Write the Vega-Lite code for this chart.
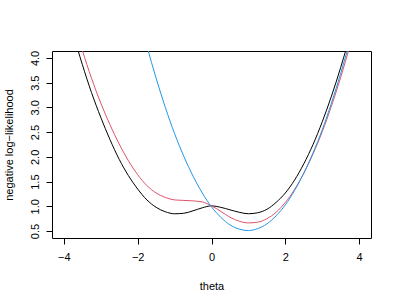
{
  "$schema": "https://vega.github.io/schema/vega-lite/v6.json",
  "width": 319,
  "height": 187,
  "autosize": "none",
  "padding": {"left": 52, "top": 51, "right": 26, "bottom": 65},
  "background": "white",
  "config": {
    "view": {"stroke": "#000000", "strokeWidth": 1},
    "font": "Liberation Sans",
    "axis": {
      "domain": false,
      "grid": false,
      "tickColor": "#000000",
      "tickSize": 6,
      "labelColor": "#000000",
      "labelFontSize": 11,
      "titleFontSize": 11,
      "titleFontWeight": "normal",
      "titleColor": "#000000",
      "labelFont": "Liberation Sans",
      "titleFont": "Liberation Sans"
    }
  },
  "data": {
    "values": [
      {"theta": -4.0, "value": 5.20, "curve": "a"},
      {"theta": -3.75, "value": 4.50, "curve": "a"},
      {"theta": -3.5, "value": 3.87, "curve": "a"},
      {"theta": -3.25, "value": 3.30, "curve": "a"},
      {"theta": -3.0, "value": 2.80, "curve": "a"},
      {"theta": -2.75, "value": 2.35, "curve": "a"},
      {"theta": -2.5, "value": 1.95, "curve": "a"},
      {"theta": -2.25, "value": 1.62, "curve": "a"},
      {"theta": -2.0, "value": 1.35, "curve": "a"},
      {"theta": -1.75, "value": 1.13, "curve": "a"},
      {"theta": -1.5, "value": 0.98, "curve": "a"},
      {"theta": -1.25, "value": 0.89, "curve": "a"},
      {"theta": -1.0, "value": 0.85, "curve": "a"},
      {"theta": -0.75, "value": 0.86, "curve": "a"},
      {"theta": -0.5, "value": 0.91, "curve": "a"},
      {"theta": -0.25, "value": 0.97, "curve": "a"},
      {"theta": 0.0, "value": 1.01, "curve": "a"},
      {"theta": 0.25, "value": 0.98, "curve": "a"},
      {"theta": 0.5, "value": 0.93, "curve": "a"},
      {"theta": 0.75, "value": 0.88, "curve": "a"},
      {"theta": 1.0, "value": 0.85, "curve": "a"},
      {"theta": 1.25, "value": 0.87, "curve": "a"},
      {"theta": 1.5, "value": 0.94, "curve": "a"},
      {"theta": 1.75, "value": 1.08, "curve": "a"},
      {"theta": 2.0, "value": 1.27, "curve": "a"},
      {"theta": 2.25, "value": 1.53, "curve": "a"},
      {"theta": 2.5, "value": 1.86, "curve": "a"},
      {"theta": 2.75, "value": 2.25, "curve": "a"},
      {"theta": 3.0, "value": 2.71, "curve": "a"},
      {"theta": 3.25, "value": 3.23, "curve": "a"},
      {"theta": 3.5, "value": 3.81, "curve": "a"},
      {"theta": 3.75, "value": 4.45, "curve": "a"},
      {"theta": 4.0, "value": 5.15, "curve": "a"},

      {"theta": -4.0, "value": 5.50, "curve": "b"},
      {"theta": -3.75, "value": 4.80, "curve": "b"},
      {"theta": -3.5, "value": 4.16, "curve": "b"},
      {"theta": -3.25, "value": 3.59, "curve": "b"},
      {"theta": -3.0, "value": 3.09, "curve": "b"},
      {"theta": -2.75, "value": 2.65, "curve": "b"},
      {"theta": -2.5, "value": 2.26, "curve": "b"},
      {"theta": -2.25, "value": 1.92, "curve": "b"},
      {"theta": -2.0, "value": 1.64, "curve": "b"},
      {"theta": -1.75, "value": 1.42, "curve": "b"},
      {"theta": -1.5, "value": 1.27, "curve": "b"},
      {"theta": -1.25, "value": 1.18, "curve": "b"},
      {"theta": -1.0, "value": 1.13, "curve": "b"},
      {"theta": -0.75, "value": 1.12, "curve": "b"},
      {"theta": -0.5, "value": 1.11, "curve": "b"},
      {"theta": -0.25, "value": 1.09, "curve": "b"},
      {"theta": 0.0, "value": 1.01, "curve": "b"},
      {"theta": 0.25, "value": 0.90, "curve": "b"},
      {"theta": 0.5, "value": 0.78, "curve": "b"},
      {"theta": 0.75, "value": 0.70, "curve": "b"},
      {"theta": 1.0, "value": 0.665, "curve": "b"},
      {"theta": 1.25, "value": 0.68, "curve": "b"},
      {"theta": 1.5, "value": 0.75, "curve": "b"},
      {"theta": 1.75, "value": 0.88, "curve": "b"},
      {"theta": 2.0, "value": 1.08, "curve": "b"},
      {"theta": 2.25, "value": 1.34, "curve": "b"},
      {"theta": 2.5, "value": 1.67, "curve": "b"},
      {"theta": 2.75, "value": 2.06, "curve": "b"},
      {"theta": 3.0, "value": 2.51, "curve": "b"},
      {"theta": 3.25, "value": 3.03, "curve": "b"},
      {"theta": 3.5, "value": 3.61, "curve": "b"},
      {"theta": 3.75, "value": 4.25, "curve": "b"},
      {"theta": 4.0, "value": 4.95, "curve": "b"},

      {"theta": -2.0, "value": 4.95, "curve": "c"},
      {"theta": -1.75, "value": 4.24, "curve": "c"},
      {"theta": -1.5, "value": 3.59, "curve": "c"},
      {"theta": -1.25, "value": 3.00, "curve": "c"},
      {"theta": -1.0, "value": 2.47, "curve": "c"},
      {"theta": -0.75, "value": 2.01, "curve": "c"},
      {"theta": -0.5, "value": 1.61, "curve": "c"},
      {"theta": -0.25, "value": 1.27, "curve": "c"},
      {"theta": 0.0, "value": 0.99, "curve": "c"},
      {"theta": 0.25, "value": 0.78, "curve": "c"},
      {"theta": 0.5, "value": 0.625, "curve": "c"},
      {"theta": 0.75, "value": 0.54, "curve": "c"},
      {"theta": 1.0, "value": 0.51, "curve": "c"},
      {"theta": 1.25, "value": 0.55, "curve": "c"},
      {"theta": 1.5, "value": 0.645, "curve": "c"},
      {"theta": 1.75, "value": 0.81, "curve": "c"},
      {"theta": 2.0, "value": 1.03, "curve": "c"},
      {"theta": 2.25, "value": 1.32, "curve": "c"},
      {"theta": 2.5, "value": 1.67, "curve": "c"},
      {"theta": 2.75, "value": 2.08, "curve": "c"},
      {"theta": 3.0, "value": 2.55, "curve": "c"},
      {"theta": 3.25, "value": 3.09, "curve": "c"},
      {"theta": 3.5, "value": 3.69, "curve": "c"},
      {"theta": 3.75, "value": 4.35, "curve": "c"},
      {"theta": 4.0, "value": 5.07, "curve": "c"}
    ]
  },
  "mark": {"type": "line", "clip": true, "strokeWidth": 1, "interpolate": "monotone"},
  "encoding": {
    "x": {
      "field": "theta",
      "type": "quantitative",
      "scale": {"domain": [-4.32, 4.32], "nice": false, "zero": false},
      "axis": {"values": [-4, -2, 0, 2, 4], "format": "d", "title": "theta", "labelPadding": 7, "titlePadding": 18}
    },
    "y": {
      "field": "value",
      "type": "quantitative",
      "scale": {"domain": [0.36, 4.14], "nice": false, "zero": false},
      "axis": {
        "values": [0.5, 1.0, 1.5, 2.0, 2.5, 3.0, 3.5, 4.0],
        "format": ".1f",
        "title": "negative log\u2212likelihood",
        "labelAngle": -90,
        "labelAlign": "center",
        "labelBaseline": "bottom",
        "labelPadding": 6,
        "titlePadding": 15
      }
    },
    "color": {
      "field": "curve",
      "type": "nominal",
      "scale": {"domain": ["a", "b", "c"], "range": ["#000000", "#DF536B", "#2297E6"]},
      "legend": null
    }
  }
}
